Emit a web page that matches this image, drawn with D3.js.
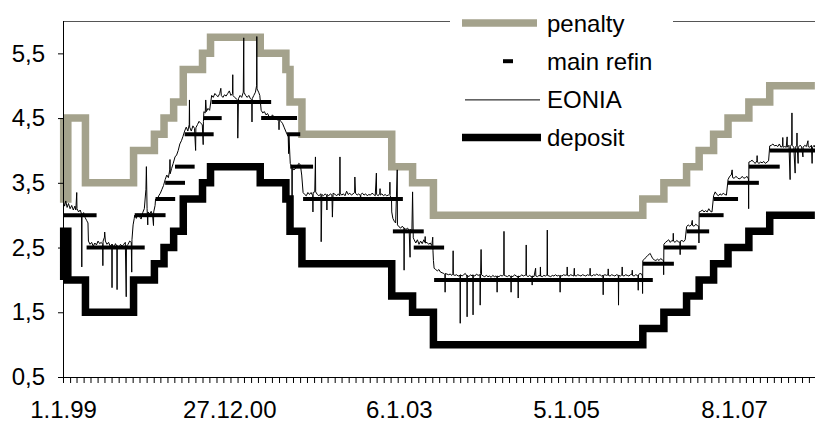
<!DOCTYPE html>
<html><head><meta charset="utf-8">
<script src="https://cdn.jsdelivr.net/npm/d3@7/dist/d3.min.js"></script>
<style>
body{margin:0;background:#fff}
svg{display:block}
text{font-family:Arial,"Liberation Sans",sans-serif;fill:#000}
</style>
</head><body>
<svg id="chart" width="815" height="423"></svg>
<script>
// ---------------- data ----------------
const startDate = "1999-01-01";
const axisEndDate = "2008-01-01";
const dataEndDate = "2007-12-27";

// standing facilities: change dates, penalty (marginal lending) and deposit rates
const rateDates = ["1999-01-01","1999-01-04","1999-01-22","1999-04-09","1999-11-05","2000-02-04","2000-03-17","2000-04-28","2000-06-09","2000-09-01","2000-10-06","2001-05-11","2001-08-31","2001-09-18","2001-11-09","2002-12-06","2003-03-07","2003-06-06","2005-12-06","2006-03-08","2006-06-15","2006-08-09","2006-10-11","2006-12-13","2007-03-14","2007-06-13"];
const penaltyRate = [4.5,3.25,4.5,3.5,4.0,4.25,4.5,4.75,5.25,5.5,5.75,5.5,5.25,4.75,4.25,3.75,3.5,3.0,3.25,3.5,3.75,4.0,4.25,4.5,4.75,5.0];
const depositRate = [2.0,2.75,2.0,1.5,2.0,2.25,2.5,2.75,3.25,3.5,3.75,3.5,3.25,2.75,2.25,1.75,1.5,1.0,1.25,1.5,1.75,2.0,2.25,2.5,2.75,3.0];

// main refinancing rate
const mroDates = ["1999-01-01","1999-04-14","1999-11-10","2000-02-09","2000-03-22","2000-05-04","2000-06-15","2000-09-06","2000-10-11","2001-05-15","2001-09-05","2001-09-19","2001-11-14","2002-12-11","2003-03-12","2003-06-09","2005-12-06","2006-03-08","2006-06-15","2006-08-09","2006-10-11","2006-12-13","2007-03-14","2007-06-13"];
const mroRate = [3.0,2.5,3.0,3.25,3.5,3.75,4.25,4.5,4.75,4.5,4.25,3.75,3.25,2.75,2.5,2.0,2.25,2.5,2.75,3.0,3.25,3.5,3.75,4.0];

const eoniaSeries = [
["1999-01-04",3.20],["1999-01-08",3.14],["1999-01-13",3.22],["1999-01-19",3.12],["1999-01-25",3.18],["1999-02-01",3.10],["1999-02-08",3.15],["1999-02-15",3.08],["1999-02-22",3.14],["1999-02-26",3.08],["1999-03-02",3.35],["1999-03-03",3.10],["1999-03-10",3.05],["1999-03-17",3.08],["1999-03-23",3.02],["1999-03-24",2.20],["1999-03-25",3.00],["1999-04-01",3.04],["1999-04-08",2.96],["1999-04-14",2.92],["1999-04-20",2.88],["1999-04-22",2.60],["1999-04-29",2.55],["1999-05-06",2.58],["1999-05-13",2.52],["1999-05-20",2.57],["1999-05-27",2.54],["1999-06-03",2.60],["1999-06-10",2.56],["1999-06-17",2.58],["1999-06-23",2.55],["1999-06-24",2.22],["1999-06-25",2.60],["1999-07-01",2.66],["1999-07-02",2.74],["1999-07-05",2.60],["1999-07-12",2.55],["1999-07-19",2.58],["1999-07-26",2.52],["1999-08-02",2.55],["1999-08-03",1.88],["1999-08-04",2.55],["1999-08-11",2.50],["1999-08-18",2.56],["1999-08-24",2.52],["1999-08-25",1.85],["1999-08-26",2.53],["1999-09-02",2.50],["1999-09-09",2.55],["1999-09-16",2.52],["1999-09-23",2.55],["1999-09-30",2.58],["1999-10-04",1.74],["1999-10-05",2.52],["1999-10-12",2.55],["1999-10-19",2.60],["1999-10-26",2.58],["1999-10-28",2.12],["1999-10-29",2.62],["1999-11-03",2.85],["1999-11-08",2.95],
["1999-11-10",3.00],["1999-11-17",2.95],["1999-11-24",3.02],["1999-12-01",2.98],["1999-12-08",2.94],["1999-12-15",3.04],["1999-12-22",3.10],["1999-12-29",3.40],["1999-12-31",3.75],["2000-01-03",3.10],["2000-01-06",2.85],["2000-01-07",3.05],["2000-01-14",3.02],["2000-01-21",3.06],["2000-01-27",3.00],["2000-01-31",2.84],["2000-02-01",3.05],["2000-02-07",3.15],
["2000-02-09",3.25],["2000-02-16",3.24],["2000-02-23",3.30],["2000-03-01",3.34],["2000-03-08",3.40],["2000-03-15",3.46],["2000-03-22",3.55],["2000-03-29",3.62],["2000-04-05",3.58],["2000-04-11",3.70],["2000-04-12",3.86],["2000-04-13",3.64],["2000-04-19",3.72],["2000-04-26",3.80],["2000-05-04",3.90],["2000-05-11",3.93],["2000-05-18",4.00],["2000-05-25",4.10],["2000-06-01",4.15],["2000-06-08",4.22],["2000-06-15",4.30],["2000-06-22",4.36],["2000-06-29",4.30],["2000-07-05",4.40],["2000-07-06",4.78],["2000-07-07",4.36],["2000-07-14",4.30],["2000-07-21",4.38],["2000-07-28",4.34],["2000-08-02",4.00],["2000-08-03",4.35],["2000-08-10",4.40],["2000-08-17",4.45],["2000-08-24",4.42],["2000-08-31",4.40],["2000-09-04",4.09],["2000-09-05",4.45],["2000-09-07",4.60],["2000-09-13",4.58],["2000-09-15",4.78],["2000-09-18",4.60],["2000-09-25",4.65],["2000-10-02",4.62],
["2000-10-11",4.85],["2000-10-18",4.82],["2000-10-25",4.88],["2000-11-01",4.85],["2000-11-08",4.83],["2000-11-15",4.88],["2000-11-20",4.96],["2000-11-22",4.85],["2000-11-29",4.82],["2000-12-06",4.86],["2000-12-13",4.84],["2000-12-20",4.88],["2000-12-27",4.92],["2001-01-03",4.85],["2001-01-10",4.88],["2001-01-11",5.17],["2001-01-12",4.85],["2001-01-19",4.82],["2001-01-26",4.80],["2001-02-01",4.78],["2001-02-02",4.19],["2001-02-05",4.80],["2001-02-12",4.85],["2001-02-19",4.82],["2001-02-26",4.90],["2001-02-28",5.74],["2001-03-01",4.90],["2001-03-08",4.85],["2001-03-15",4.82],["2001-03-22",4.85],["2001-03-29",4.80],["2001-04-04",4.78],["2001-04-05",4.44],["2001-04-06",4.80],["2001-04-13",4.85],["2001-04-20",4.90],["2001-04-25",5.00],["2001-04-26",5.76],["2001-04-27",4.95],["2001-05-04",4.90],["2001-05-09",4.85],
["2001-05-15",4.62],["2001-05-22",4.58],["2001-05-29",4.60],["2001-06-05",4.55],["2001-06-12",4.57],["2001-06-19",4.52],["2001-06-26",4.50],["2001-07-03",4.55],["2001-07-10",4.52],["2001-07-17",4.50],["2001-07-24",4.48],["2001-07-31",4.45],["2001-08-01",4.32],["2001-08-02",4.48],["2001-08-09",4.45],["2001-08-16",4.42],["2001-08-23",4.36],["2001-08-30",4.30],["2001-09-05",4.25],["2001-09-10",4.22],["2001-09-12",3.95],["2001-09-13",4.25],["2001-09-19",3.80],["2001-09-26",3.75],["2001-09-27",2.80],["2001-09-28",3.72],["2001-10-05",3.70],["2001-10-12",3.72],["2001-10-19",3.75],["2001-10-26",3.80],["2001-11-02",3.78],["2001-11-08",3.62],["2001-11-14",3.35],
["2001-11-21",3.32],["2001-11-28",3.30],["2001-12-05",3.35],["2001-12-12",3.32],["2001-12-19",3.35],["2001-12-26",3.30],["2001-12-27",3.05],["2001-12-28",3.35],["2002-01-04",3.36],["2002-01-07",3.90],["2002-01-08",3.36],["2002-01-15",3.32],["2002-01-22",3.30],["2002-01-31",3.33],["2002-02-01",2.59],["2002-02-04",3.32],["2002-02-11",3.30],["2002-02-19",3.33],["2002-02-25",3.30],["2002-02-26",3.08],["2002-02-27",3.32],["2002-03-06",3.30],["2002-03-13",3.33],["2002-03-20",3.31],["2002-03-22",2.97],["2002-03-25",3.34],["2002-04-03",3.32],["2002-04-10",3.30],["2002-04-17",3.33],["2002-04-23",3.30],["2002-04-24",3.90],["2002-04-25",3.34],["2002-05-02",3.31],["2002-05-09",3.33],["2002-05-16",3.30],["2002-05-23",3.37],["2002-05-30",3.32],["2002-06-06",3.34],["2002-06-13",3.31],["2002-06-20",3.33],["2002-06-27",3.35],["2002-06-28",3.59],["2002-07-01",3.34],["2002-07-08",3.31],["2002-07-15",3.33],["2002-07-22",3.30],["2002-07-23",3.22],["2002-07-24",3.32],["2002-07-31",3.34],["2002-08-07",3.31],["2002-08-14",3.33],["2002-08-21",3.30],["2002-08-28",3.32],["2002-09-04",3.31],["2002-09-11",3.34],["2002-09-18",3.32],["2002-09-25",3.30],["2002-09-30",3.65],["2002-10-01",3.32],["2002-10-08",3.30],["2002-10-15",3.34],["2002-10-16",3.41],["2002-10-17",3.31],["2002-10-24",3.33],["2002-10-31",3.30],["2002-11-07",3.32],["2002-11-14",3.30],["2002-11-21",3.31],["2002-11-27",3.33],["2002-11-28",3.51],["2002-11-29",3.30],["2002-12-05",3.25],["2002-12-06",3.05],
["2002-12-11",2.95],["2002-12-18",2.90],["2002-12-23",2.88],["2002-12-30",3.70],["2002-12-31",2.85],["2003-01-07",2.82],["2003-01-14",2.80],["2003-01-21",2.83],["2003-01-28",2.80],["2003-01-29",2.15],["2003-01-30",2.80],["2003-02-06",2.78],["2003-02-13",2.80],["2003-02-20",2.77],["2003-02-24",2.35],["2003-02-25",2.78],["2003-03-04",2.76],["2003-03-07",3.36],["2003-03-10",2.65],
["2003-03-14",2.62],["2003-03-21",2.57],["2003-03-28",2.62],["2003-04-04",2.55],["2003-04-11",2.60],["2003-04-18",2.56],["2003-04-25",2.62],["2003-04-30",2.58],["2003-05-01",2.67],["2003-05-02",2.57],["2003-05-09",2.58],["2003-05-16",2.55],["2003-05-23",2.57],["2003-05-30",2.53],["2003-06-03",2.66],["2003-06-04",2.45],["2003-06-06",2.30],["2003-06-09",2.18],
["2003-06-16",2.16],["2003-06-23",2.14],["2003-06-30",2.16],["2003-07-07",2.12],["2003-07-14",2.11],["2003-07-21",2.10],["2003-07-26",2.08],["2003-07-27",1.81],["2003-07-28",2.10],["2003-08-04",2.09],["2003-08-11",2.08],["2003-08-18",2.09],["2003-08-25",2.07],["2003-08-30",2.10],["2003-08-31",2.45],["2003-09-01",2.08],["2003-09-08",2.07],["2003-09-15",2.08],["2003-09-22",2.06],["2003-09-30",2.07],["2003-10-01",1.33],["2003-10-02",2.08],["2003-10-09",2.06],["2003-10-16",2.08],["2003-10-23",2.10],["2003-10-30",2.06],["2003-10-31",1.43],["2003-11-01",2.07],["2003-11-08",2.05],["2003-11-15",2.08],["2003-11-22",2.06],["2003-11-25",2.08],["2003-11-26",1.46],["2003-11-27",2.07],["2003-12-04",2.06],["2003-12-11",2.09],["2003-12-18",2.07],["2003-12-26",2.08],["2003-12-27",1.61],["2003-12-29",2.10],["2003-12-31",2.47],["2004-01-02",2.08],
["2004-01-09",2.06],["2004-01-16",2.05],["2004-01-23",2.07],["2004-01-30",2.05],["2004-02-06",2.06],["2004-02-13",2.04],["2004-02-20",2.07],["2004-02-27",2.05],["2004-03-05",2.06],["2004-03-09",2.05],["2004-03-10",1.81],["2004-03-11",2.06],["2004-03-18",2.05],["2004-03-25",2.07],["2004-04-01",2.06],["2004-04-08",2.08],["2004-04-09",2.75],["2004-04-10",2.07],["2004-04-17",2.06],["2004-04-24",2.05],["2004-05-01",2.07],["2004-05-09",2.05],["2004-05-10",1.81],["2004-05-11",2.06],["2004-05-18",2.05],["2004-05-25",2.08],["2004-06-01",2.06],["2004-06-09",2.05],["2004-06-10",1.72],["2004-06-11",2.06],["2004-06-18",2.05],["2004-06-25",2.08],["2004-07-02",2.06],["2004-07-09",2.07],["2004-07-14",2.08],["2004-07-15",2.54],["2004-07-16",2.07],["2004-07-23",2.05],["2004-07-30",2.07],["2004-08-06",2.05],["2004-08-09",2.06],["2004-08-10",1.92],["2004-08-11",2.06],["2004-08-18",2.05],["2004-08-25",2.18],["2004-08-26",2.06],["2004-09-02",2.05],["2004-09-09",2.07],["2004-09-14",2.06],["2004-09-15",2.20],["2004-09-16",2.06],["2004-09-23",2.05],["2004-09-30",2.07],["2004-10-07",2.06],["2004-10-14",2.08],["2004-10-15",2.77],["2004-10-16",2.07],["2004-10-23",2.06],["2004-10-30",2.05],["2004-11-06",2.07],["2004-11-13",2.06],["2004-11-20",2.08],["2004-11-27",2.06],["2004-12-04",2.07],["2004-12-09",2.06],["2004-12-10",1.81],["2004-12-11",2.07],["2004-12-18",2.06],["2004-12-25",2.08],
["2005-01-01",2.07],["2005-01-09",2.08],["2005-01-10",2.20],["2005-01-11",2.07],["2005-01-18",2.06],["2005-01-25",2.08],["2005-02-01",2.07],["2005-02-08",2.06],["2005-02-10",2.18],["2005-02-11",2.07],["2005-02-18",2.06],["2005-02-25",2.08],["2005-03-04",2.07],["2005-03-11",2.06],["2005-03-18",2.08],["2005-03-25",2.07],["2005-04-01",2.06],["2005-04-08",2.08],["2005-04-15",2.07],["2005-04-19",2.08],["2005-04-20",2.18],["2005-04-21",2.07],["2005-04-28",2.06],["2005-05-05",2.08],["2005-05-12",2.07],["2005-05-19",2.09],["2005-05-26",2.07],["2005-06-02",2.08],["2005-06-09",2.06],["2005-06-15",2.07],["2005-06-16",1.77],["2005-06-17",2.07],["2005-06-24",2.08],["2005-07-01",2.07],["2005-07-07",2.08],["2005-07-08",2.17],["2005-07-09",2.07],["2005-07-16",2.06],["2005-07-23",2.08],["2005-07-30",2.07],["2005-08-06",2.06],["2005-08-13",2.08],["2005-08-21",2.07],["2005-08-22",1.61],["2005-08-23",2.07],["2005-08-30",2.06],["2005-09-06",2.08],["2005-09-07",2.20],["2005-09-08",2.07],["2005-09-15",2.06],["2005-09-22",2.08],["2005-09-29",2.07],["2005-10-06",2.06],["2005-10-13",2.08],["2005-10-20",2.09],["2005-10-21",2.15],["2005-10-22",2.07],["2005-10-29",2.06],["2005-11-05",2.08],["2005-11-12",2.07],["2005-11-15",2.06],["2005-11-16",1.84],["2005-11-17",2.08],["2005-11-24",2.10],["2005-12-01",2.09],["2005-12-04",2.06],["2005-12-05",1.79],
["2005-12-06",2.30],["2005-12-13",2.32],["2005-12-20",2.35],["2005-12-28",2.38],["2006-01-04",2.40],["2006-01-07",2.41],["2006-01-11",2.38],["2006-01-18",2.33],["2006-01-25",2.31],["2006-02-01",2.30],["2006-02-08",2.32],["2006-02-15",2.30],["2006-02-22",2.33],["2006-03-01",2.31],["2006-03-06",2.30],["2006-03-07",2.08],["2006-03-08",2.55],["2006-03-15",2.58],["2006-03-22",2.60],["2006-03-29",2.62],["2006-04-05",2.58],["2006-04-12",2.61],["2006-04-17",2.60],["2006-04-18",2.72],["2006-04-19",2.60],["2006-04-26",2.58],["2006-05-03",2.61],["2006-05-10",2.59],["2006-05-17",2.58],["2006-05-18",2.39],["2006-05-19",2.60],["2006-05-26",2.61],["2006-06-02",2.59],["2006-06-09",2.62],["2006-06-15",2.82],["2006-06-22",2.85],["2006-06-29",2.83],["2006-07-06",2.85],["2006-07-10",2.92],["2006-07-11",2.84],["2006-07-18",2.83],["2006-07-25",2.86],["2006-08-01",2.84],["2006-08-07",2.83],["2006-08-08",2.57],["2006-08-09",3.05],["2006-08-16",3.06],["2006-08-23",3.08],["2006-08-30",3.05],["2006-09-06",3.07],["2006-09-13",3.05],["2006-09-20",3.10],["2006-09-27",3.06],["2006-10-04",3.05],["2006-10-11",3.30],["2006-10-18",3.36],["2006-10-25",3.32],["2006-11-01",3.30],["2006-11-08",3.33],["2006-11-15",3.31],["2006-11-22",3.34],["2006-11-29",3.32],["2006-12-06",3.31],["2006-12-13",3.55],["2006-12-20",3.60],["2006-12-27",3.62],["2006-12-31",3.70],["2007-01-02",3.58],["2007-01-09",3.57],["2007-01-16",3.60],["2007-01-23",3.58],["2007-01-30",3.56],["2007-02-06",3.57],["2007-02-13",3.60],["2007-02-20",3.57],["2007-02-27",3.58],["2007-03-06",3.60],["2007-03-12",3.56],["2007-03-13",3.10],["2007-03-14",3.82],["2007-03-21",3.83],["2007-03-28",3.85],["2007-04-04",3.82],["2007-04-11",3.80],["2007-04-18",3.84],["2007-04-19",3.92],["2007-04-20",3.82],["2007-04-27",3.80],["2007-05-04",3.82],["2007-05-11",3.81],["2007-05-18",3.83],["2007-05-25",3.80],["2007-06-01",3.82],["2007-06-08",3.84],
["2007-06-13",4.07],["2007-06-20",4.08],["2007-06-27",4.10],["2007-07-04",4.07],["2007-07-11",4.08],["2007-07-18",4.06],["2007-07-25",4.10],["2007-08-01",4.05],["2007-08-08",4.07],["2007-08-09",4.20],["2007-08-10",4.05],["2007-08-17",4.06],["2007-08-24",4.05],["2007-08-28",4.21],["2007-08-29",4.05],["2007-09-05",4.08],["2007-09-10",3.55],["2007-09-11",4.06],["2007-09-17",4.10],["2007-09-18",4.58],["2007-09-19",4.08],["2007-09-26",4.05],["2007-10-02",3.65],["2007-10-03",4.05],["2007-10-09",4.08],["2007-10-10",4.27],["2007-10-11",4.05],["2007-10-15",3.80],["2007-10-16",4.05],["2007-10-23",4.08],["2007-10-30",4.06],["2007-11-05",3.90],["2007-11-06",4.05],["2007-11-13",4.08],["2007-11-20",4.06],["2007-11-27",4.15],["2007-11-28",4.06],["2007-12-05",4.05],["2007-12-12",4.08],["2007-12-15",3.80],["2007-12-17",4.05],["2007-12-24",4.08],["2007-12-27",4.05]
];

const xTickDates = ["1999-01-01","2000-12-27","2003-01-06","2005-01-05","2007-01-08"];
const xTickLabels = ["1.1.99","27.12.00","6.1.03","5.1.05","8.1.07"];
const yTickValues = [0.5,1.5,2.5,3.5,4.5,5.5];
const legendLabels = ["penalty","main refin","EONIA","deposit"];

// ---------------- drawing ----------------
const parse = d3.utcParse("%Y-%m-%d");
const svg = d3.select("#chart");
const W = 815, H = 423;
const pLeft = 63, pRight = 816, pTop = 21, pBottom = 377;

const x = d3.scaleUtc().domain([parse(startDate), parse(axisEndDate)]).range([pLeft, pRight]);
const y = d3.scaleLinear().domain([0.5, 6.0]).range([pBottom, pTop]);

const penaltyColor = "#a4a28c";

function stepPoints(dates, vals, end) {
  const pts = dates.map((d, i) => [parse(d), vals[i]]);
  pts.push([parse(end), vals[vals.length - 1]]);
  return pts;
}
const stepLine = d3.line().x(d => x(d[0])).y(d => y(d[1])).curve(d3.curveStepAfter);

// frame top line
svg.append("line").attr("x1", pLeft).attr("x2", W).attr("y1", pTop + 0.5).attr("y2", pTop + 0.5)
  .attr("stroke", "#555").attr("stroke-width", 1);

// penalty
svg.append("path").datum(stepPoints(rateDates, penaltyRate, dataEndDate))
  .attr("d", stepLine).attr("fill", "none").attr("stroke", penaltyColor)
  .attr("stroke-width", 7.5).attr("stroke-linejoin", "miter");

// deposit
svg.append("path").datum(stepPoints(rateDates, depositRate, dataEndDate))
  .attr("d", stepLine).attr("fill", "none").attr("stroke", "#000")
  .attr("stroke-width", 7.5).attr("stroke-linejoin", "miter");

// main refinancing rate dashes
const mroSegs = mroDates.map((d, i) => ({
  s: parse(d),
  e: parse(i + 1 < mroDates.length ? mroDates[i + 1] : dataEndDate),
  v: mroRate[i]
}));
svg.append("g").selectAll("line").data(mroSegs).join("line")
  .attr("x1", d => x(d.s)).attr("x2", d => Math.min(W, x(d.e) + 10))
  .attr("y1", d => y(d.v)).attr("y2", d => y(d.v))
  .attr("stroke", "#000").attr("stroke-width", 4);

// EONIA
const eoniaLine = d3.line().x(d => x(parse(d[0]))).y(d => y(d[1]));
svg.append("path").datum(eoniaSeries).attr("d", eoniaLine)
  .attr("fill", "none").attr("stroke", "#000").attr("stroke-width", 1);

// y axis
const yAxis = d3.axisLeft(y).tickValues(yTickValues).tickSize(5).tickSizeOuter(0).tickPadding(13)
  .tickFormat(d => d3.format(".1f")(d).replace(".", ","));
const gy = svg.append("g").attr("transform", `translate(${pLeft},0)`).call(yAxis);
gy.select(".domain").attr("d", `M0.5,${y(0.5)}V${pTop}`);
gy.selectAll("text").attr("font-size", 24).attr("font-family", "Arial, 'Liberation Sans', sans-serif");

// x axis monthly minor ticks
const xAxis = d3.axisBottom(x).ticks(d3.utcMonth.every(1)).tickSize(6).tickSizeOuter(0).tickFormat("");
const gx = svg.append("g").attr("transform", `translate(0,${pBottom})`).call(xAxis);
gx.selectAll(".tick").filter(d => d > parse(dataEndDate)).remove();

// x labels
const xLab = d3.axisBottom(x).tickValues(xTickDates.map(parse)).tickSize(0).tickPadding(24)
  .tickFormat((d, i) => xTickLabels[i]);
const gxl = svg.append("g").attr("transform", `translate(0,${pBottom})`).call(xLab);
gxl.select(".domain").remove();
gxl.selectAll("text").attr("font-size", 24).attr("font-family", "Arial, 'Liberation Sans', sans-serif");

// legend
const lg = svg.append("g");
lg.append("rect").attr("x", 450).attr("y", 0).attr("width", 223).attr("height", 152).attr("fill", "#fff");
const rowY = i => 23 + i * 38.2;
lg.append("line").attr("x1", 462).attr("x2", 537).attr("y1", rowY(0)).attr("y2", rowY(0))
  .attr("stroke", penaltyColor).attr("stroke-width", 7.5);
lg.append("line").attr("x1", 503).attr("x2", 513).attr("y1", rowY(1)).attr("y2", rowY(1))
  .attr("stroke", "#000").attr("stroke-width", 4);
lg.append("line").attr("x1", 465).attr("x2", 540).attr("y1", rowY(2) + 0.5).attr("y2", rowY(2) + 0.5)
  .attr("stroke", "#000").attr("stroke-width", 1);
lg.append("line").attr("x1", 462).attr("x2", 541).attr("y1", rowY(3)).attr("y2", rowY(3))
  .attr("stroke", "#000").attr("stroke-width", 7.5);
lg.selectAll("text").data(legendLabels).join("text")
  .attr("x", 547).attr("y", (d, i) => rowY(i) + 8.5)
  .attr("font-size", 24).text(d => d);
</script>
</body></html>
